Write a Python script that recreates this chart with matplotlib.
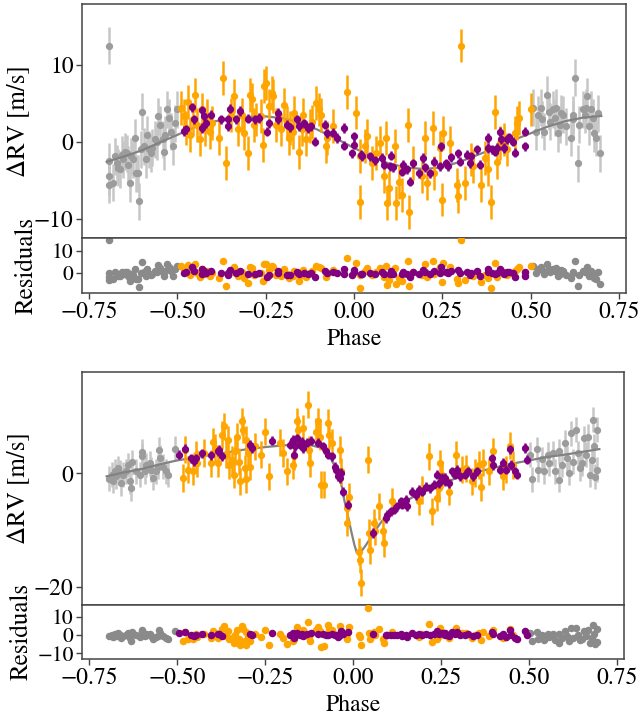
import numpy as np
import matplotlib
matplotlib.use("Agg")
import matplotlib.pyplot as plt

plt.rcParams['font.family'] = ['STIXGeneral', 'Liberation Serif', 'DejaVu Serif']
plt.rcParams['mathtext.fontset'] = 'stix'
plt.rcParams['font.size'] = 16

# ---------- upper system: data ----------
top_gray_phase = [-0.694, -0.694, -0.694, -0.694, -0.683, -0.677, -0.672, -0.667, -0.662, -0.658,
                  -0.653, -0.648, -0.644, -0.639, -0.634, -0.630, -0.625, -0.620, -0.616, -0.611,
                  -0.609, -0.603, -0.600, -0.594, -0.590, -0.585, -0.581, -0.576, -0.571, -0.564,
                  -0.559, -0.554, -0.550, -0.542, -0.539, -0.536, -0.529, -0.524, -0.519, -0.512,
                  -0.508, -0.501,
                  0.507, 0.514, 0.521, 0.528, 0.533, 0.539, 0.546, 0.552, 0.555, 0.563,
                  0.568, 0.572, 0.577, 0.582, 0.586, 0.593, 0.600, 0.615, 0.619, 0.621,
                  0.627, 0.633, 0.638, 0.647, 0.654, 0.657, 0.661, 0.666, 0.671, 0.676,
                  0.680, 0.685, 0.690, 0.696]
top_gray_rv = [12.5, -2.55, -4.5, -5.6, -5.3, -1.9, -2.8, -3.4, -3.6, -1.7,
               -2.3, -1.3, -1.5, -3.0, -5.4, -1.9, -2.3, 0.5, -4.1, -4.1,
               -7.7, -1.0, 3.9, -0.6, -2.3, 0.9, -1.0, -1.5, -0.8, 0.3,
               0.0, 3.3, 2.2, 0.3, -1.3, 0.9, 4.2, 3.1, 1.3, -0.6,
               2.4, 4.2,
               4.4, 1.3, 3.5, 4.4, 2.9, 1.3, 6.1, 3.9, 2.6, 4.2,
               3.1, 4.4, 1.1, 2.2, 3.7, 3.5, 2.0, 0.5, 3.5, 2.9,
               8.3, -2.8, 2.2, 4.2, 3.5, 4.4, 5.9, 2.0, 4.2, 3.1,
               1.1, 0.5, 3.7, -1.5]

top_orange_phase = [-0.489, -0.481, -0.475, -0.470, -0.465, -0.456, -0.449, -0.444, -0.437, -0.430,
                    -0.423, -0.415, -0.409, -0.402, -0.381, -0.371, -0.362, -0.348, -0.339, -0.329,
                    -0.318, -0.310, -0.301, -0.293, -0.290, -0.284, -0.277, -0.263, -0.259, -0.254,
                    -0.249, -0.240, -0.233, -0.228, -0.221, -0.207, -0.198, -0.190, -0.184, -0.180,
                    -0.174, -0.170, -0.156, -0.146, -0.143, -0.137, -0.125, -0.120, -0.108, -0.099,
                    -0.094, -0.080, -0.077, -0.059, -0.021, 0.006, 0.016, 0.018, 0.032, 0.037,
                    0.051, 0.061, 0.073, 0.084, 0.092, 0.094, 0.098, 0.117, 0.119, 0.126,
                    0.136, 0.154, 0.157, 0.168, 0.192, 0.201, 0.206, 0.225, 0.227, 0.244,
                    0.250, 0.253, 0.272, 0.291, 0.295, 0.303, 0.314, 0.331, 0.338, 0.359,
                    0.370, 0.380, 0.387, 0.399, 0.406, 0.413, 0.425, 0.432, 0.455, 0.462,
                    0.466, 0.500]
top_orange_rv = [4.4, 3.3, 1.8, 5.2, 0.9, 2.9, 6.1, 2.2, 0.3, 4.2,
                 1.6, 3.3, 1.3, 2.4, 0.5, 8.3, -2.8, 3.5, 5.9, 1.6,
                 3.5, 1.1, -1.5, 6.1, 5.5, 2.2, 2.9, 3.3, -0.4, 7.2,
                 7.6, 4.6, 6.3, 5.9, 2.2, 1.6, 4.8, 2.4, 0.5, 1.8,
                 1.3, 3.7, -1.3, 1.6, 3.5, 0.3, 2.0, 2.6, 5.0, 4.2,
                 3.5, -0.6, 0.5, 2.0, 6.5, 3.8, -7.8, -1.9, -0.6, 0.7,
                 -2.8, -1.5, -0.2, -4.5, 0.5, -8.0, -6.0, -0.6, -8.0, -5.2,
                 -6.9, 2.2, -9.1, -2.8, -4.5, 0.5, -5.4, 1.8, -4.1, -0.8,
                 -7.5, 1.1, -0.2, -5.6, -7.1, 12.5, -5.4, -2.3, -3.2, -5.6,
                 -2.1, -3.6, -7.8, 3.9, -2.6, -0.2, 0.3, -1.0, 1.1, 2.4,
                 3.1, 4.2]

top_purple_phase = [-0.482, -0.477, -0.459, -0.454, -0.430, -0.430, -0.426, -0.418, -0.406, -0.376,
                    -0.357, -0.356, -0.351, -0.334, -0.322, -0.300, -0.279, -0.268, -0.247, -0.242,
                    -0.215, -0.215, -0.190, -0.180, -0.162, -0.155, -0.141, -0.130, -0.123, -0.110,
                    -0.082, -0.077, -0.060, -0.049, -0.029, -0.027, -0.005, -0.001, 0.000, 0.020,
                    0.023, 0.046, 0.060, 0.079, 0.084, 0.103, 0.106, 0.110, 0.136, 0.140,
                    0.150, 0.159, 0.167, 0.185, 0.195, 0.200, 0.214, 0.227, 0.244, 0.246,
                    0.261, 0.265, 0.275, 0.293, 0.300, 0.319, 0.328, 0.330, 0.347, 0.356,
                    0.378, 0.378, 0.390, 0.399, 0.406, 0.413, 0.415, 0.425, 0.432, 0.440,
                    0.450, 0.457, 0.483, 0.485]
top_purple_rv = [1.4, 1.6, 4.5, 2.9, 4.1, 1.8, 3.3, 2.4, 3.5, 2.9,
                 2.9, 2.0, 4.3, 2.9, 4.0, 3.0, 2.9, 3.1, 1.3, 2.4,
                 3.8, 2.9, 2.2, 1.9, 2.9, 2.0, 2.4, 1.8, 2.0, 0.0,
                 2.2, 1.1, 1.2, 0.5, 1.8, -0.5, -1.5, 0.7, -0.4, -1.7,
                 -1.9, -1.9, -2.4, -2.1, -3.0, -3.2, -1.8, -3.3, -3.9, -3.0,
                 -3.6, -5.2, -2.8, -4.1, -2.1, -3.3, -4.1, -2.6, -3.2, -0.6,
                 -2.8, -3.2, -2.0, -1.5, -2.6, -1.7, -2.8, -1.9, -1.0, -3.0,
                 0.5, -0.8, -1.0, -1.3, -0.8, 1.3, 0.3, -0.8, 0.3, 0.6,
                 0.0, -1.4, 1.3, -0.6]

top_model_phase = [-0.70, -0.65, -0.60, -0.55, -0.50, -0.45, -0.40, -0.35, -0.30, -0.25,
                   -0.20, -0.15, -0.10, -0.05, 0.00, 0.05, 0.10, 0.15, 0.20, 0.25,
                   0.30, 0.35, 0.40, 0.45, 0.50, 0.55, 0.60, 0.65, 0.70]
top_model_rv = [-2.6, -1.9, -1.1, -0.1, 0.9, 1.9, 2.6, 3.05, 3.25, 3.3,
                3.05, 2.5, 1.5, 0.4, -0.8, -1.9, -2.85, -3.35, -3.55, -3.3,
                -2.6, -1.7, -0.8, 0.2, 1.1, 2.0, 2.7, 3.15, 3.35]

# ---------- lower system ----------
bot_gray_phase = [-0.692, -0.686, -0.681, -0.677, -0.672, -0.667, -0.662, -0.658, -0.653, -0.646,
                  -0.639, -0.635, -0.630, -0.627, -0.616, -0.606, -0.599, -0.599, -0.592, -0.587,
                  -0.578, -0.573, -0.568, -0.559, -0.554, -0.550, -0.548, -0.540, -0.531, -0.526,
                  -0.505,
                  0.502, 0.509, 0.523, 0.525, 0.538, 0.544, 0.554, 0.558, 0.568, 0.575,
                  0.585, 0.586, 0.594, 0.601, 0.607, 0.613, 0.619, 0.626, 0.633, 0.638,
                  0.645, 0.650, 0.657, 0.663, 0.669, 0.673, 0.678, 0.682, 0.685, 0.688,
                  0.692, 0.694]
bot_gray_rv = [-0.9, -0.2, -1.3, 0.35, -0.5, 0.9, 0.1, -1.7, -0.2, 0.35,
               1.5, -1.4, -2.6, 2.0, 0.35, -0.2, 3.8, 3.0, 0.35, 1.5,
               1.8, 0.65, -0.8, 0.35, 1.2, 4.2, 2.8, 1.2, 0.35, -0.2,
               4.4,
               3.3, -1.0, 4.3, 0.65, 2.5, 0.35, 3.3, 1.8, 3.6, 0.35,
               3.9, -1.1, 1.5, 5.4, 2.7, 0.1, 7.1, 2.1, 7.7, 3.6,
               0.9, 1.8, 6.2, 3.3, 6.5, -0.2, 2.4, 9.5, 4.8, -0.6,
               0.65, 7.7]

bot_orange_phase = [-0.484, -0.477, -0.470, -0.454, -0.446, -0.442, -0.423, -0.404, -0.398, -0.393,
                    -0.385, -0.373, -0.367, -0.362, -0.354, -0.351, -0.345, -0.339, -0.334, -0.329,
                    -0.324, -0.320, -0.315, -0.312, -0.308, -0.305, -0.304, -0.298, -0.292, -0.279,
                    -0.261, -0.249, -0.240, -0.207, -0.198, -0.188, -0.171, -0.168, -0.160, -0.155,
                    -0.141, -0.127, -0.125, -0.123, -0.104, -0.099, -0.094, -0.090, -0.083, -0.071,
                    -0.068, -0.061, -0.038, -0.033, -0.017, -0.017, -0.010, 0.016, 0.020, 0.023,
                    0.042, 0.046, 0.048, 0.061, 0.063, 0.075, 0.084, 0.089, 0.112, 0.187,
                    0.195, 0.217, 0.225, 0.239, 0.244, 0.248, 0.253, 0.272, 0.293, 0.309,
                    0.322, 0.338, 0.347, 0.359, 0.363, 0.368, 0.385, 0.397, 0.425, 0.434,
                    0.446, 0.455]
bot_orange_rv = [-0.8, 4.2, 0.65, 0.35, 3.3, 1.8, 3.6, 1.8, 5.6, 4.5,
                 1.8, 6.8, 8.3, 3.3, 5.9, 1.5, 2.4, -0.2, 3.9, 6.5,
                 2.1, -1.4, 9.2, 7.7, 0.9, -1.0, 5.9, 3.6, 1.2, 4.8,
                 3.3, 7.4, -0.5, 5.4, 3.6, 0.35, 1.5, 3.0, 9.2, 7.7,
                 8.0, 12.1, 4.2, 1.8, 7.4, 9.2, 6.5, -2.0, -2.0, 8.9,
                 6.8, 5.4, 4.2, 0.35, -6.1, -8.7, -4.1, -13.8, -15.2, -19.3,
                 2.4, -10.5, -13.5, -8.7, -10.2, -5.8, -10.2, -12.3, -4.9, -4.9,
                 -2.9, 3.0, -6.7, -4.3, -2.6, 1.8, -0.2, -3.2, 3.3, 0.65,
                 0.9, -1.4, 0.1, 1.5, -2.4, 1.9, 0.35, 3.9, -0.5, 0.65,
                 4.9, 1.5]

bot_purple_phase = [-0.493, -0.477, -0.461, -0.451, -0.446, -0.430, -0.404, -0.385, -0.381, -0.371,
                    -0.292, -0.287, -0.230, -0.179, -0.170, -0.168, -0.165, -0.158, -0.151, -0.146,
                    -0.141, -0.132, -0.118, -0.099, -0.085, -0.077, -0.071, -0.061, -0.052, -0.047,
                    -0.043, -0.038, -0.033, -0.027, -0.015, 0.056, 0.093, 0.098, 0.108, 0.117,
                    0.126, 0.136, 0.140, 0.150, 0.154, 0.168, 0.178, 0.187, 0.196, 0.206,
                    0.220, 0.230, 0.239, 0.244, 0.253, 0.262, 0.262, 0.272, 0.281, 0.291,
                    0.295, 0.305, 0.319, 0.328, 0.342, 0.351, 0.394, 0.399, 0.417, 0.427,
                    0.436, 0.446, 0.450, 0.460, 0.466, 0.488, 0.494]
bot_purple_rv = [3.3, 4.4, 2.7, 2.2, 2.7, 3.6, 3.2, 3.9, 4.2, 3.0,
                 5.1, 4.5, 5.8, 5.1, 5.9, 3.3, 4.8, 6.2, 5.1, 5.6,
                 4.5, 5.4, 5.8, 5.4, 4.8, 3.9, 3.3, 3.0, 1.2, 0.65,
                 -0.5, -0.8, 0.1, -3.2, -5.5, -10.5, -7.9, -7.3, -6.7, -6.4,
                 -5.8, -4.9, -5.5, -4.6, -5.8, -3.2, -3.8, -2.9, -3.2, -2.3,
                 -2.6, -2.0, -0.2, -1.7, -0.8, -1.4, -0.8, -1.7, 0.35, -0.2,
                 0.65, -0.5, -0.2, 0.35, -0.5, 0.35, 2.7, 1.5, 0.65, 1.9,
                 0.65, 4.3, 1.5, 0.35, -0.2, 4.5, 2.4]

bot_model_phase = [-0.70, -0.65, -0.60, -0.55, -0.50, -0.45, -0.40, -0.35, -0.30, -0.25,
                   -0.20, -0.15, -0.12, -0.09, -0.07, -0.057, -0.043, -0.033, -0.024, -0.015,
                   -0.005, 0.004, 0.011, 0.023, 0.037, 0.056, 0.075, 0.089, 0.108, 0.14,
                   0.19, 0.25, 0.30, 0.35, 0.40, 0.45, 0.50, 0.55, 0.60, 0.65, 0.70]
bot_model_rv = [-0.5, 0.2, 0.8, 1.6, 2.3, 2.8, 3.3, 3.8, 4.3, 4.65,
                4.95, 5.1, 5.0, 4.5, 3.5, 1.9, 0.4, -2.0, -4.9, -7.3,
                -10.2, -12.6, -14.0, -13.8, -12.6, -10.8, -9.0, -7.9, -6.7, -5.2,
                -3.5, -2.0, -0.6, 0.2, 1.0, 1.7, 2.3, 2.9, 3.3, 3.8, 4.3]

# typical error bar half-lengths per instrument
top_err = {'gray': 2.4, 'orange': 2.2, 'purple': 0.6}
bot_err = {'gray': 2.2, 'orange': 2.4, 'purple': 0.8}

GRAY_M, GRAY_E = '#9c9c9c', '#c6c6c6'
ORANGE = '#FFA500'
PURPLE = '#800080'
MODEL = '#828282'
SPINE = '#444444'

fig = plt.figure(figsize=(6.41, 7.19), dpi=100)
W, H = 641, 719


def add_ax(l, t, r, b):
    return fig.add_axes([l / W, 1 - b / H, (r - l) / W, (b - t) / H])


def style(ax, size):
    for s in ax.spines.values():
        s.set_color(SPINE)
        s.set_linewidth(1.1)
    ax.tick_params(labelsize=17, length=4, width=1, direction='out', color=SPINE, pad=2)
    ax.tick_params(axis='y', labelsize=size)


def panel(ax, rax, gray, orange, purple, model, err, ylim, rylim, yticks, ryticks, rpad):
    mph, mrv = np.array(model[0]), np.array(model[1])
    sets = [(gray, GRAY_M, GRAY_E, err['gray'], 1),
            (orange, ORANGE, ORANGE, err['orange'], 3),
            (purple, PURPLE, PURPLE, err['purple'], 4)]
    ax.plot(mph, mrv, color=MODEL, lw=1.6, zorder=2)
    for (ph, rv), mc, ec, e, z in sets:
        ph, rv = np.array(ph), np.array(rv)
        ax.errorbar(ph, rv, yerr=e, fmt='o', ms=4.2, color=mc, ecolor=ec,
                    elinewidth=1.8, capsize=0, zorder=z)
        res = rv - np.interp(ph, mph, mrv)
        rax.plot(ph, res, 'o', ms=4.4, color=(mc if mc != GRAY_M else '#8a8a8a'),
                 zorder=z)
    ax.set_ylim(*ylim)
    rax.set_ylim(*rylim)
    ax.set_yticks(yticks)
    rax.set_yticks(ryticks)
    ax.set_xlim(-0.77, 0.77)
    rax.set_xlim(-0.77, 0.77)
    rax.set_xticks([-0.75, -0.5, -0.25, 0.0, 0.25, 0.5, 0.75])
    ax.set_xticks([])
    ax.set_ylabel('ΔRV [m/s]', fontsize=18, labelpad=3)
    rax.set_ylabel('Residuals', fontsize=18, labelpad=rpad)
    rax.set_xlabel('Phase', fontsize=17, labelpad=4)
    style(ax, 17)
    style(rax, 15.5)


ax1 = add_ax(82, 4, 626, 238)
rax1 = add_ax(82, 238, 626, 293)
panel(ax1, rax1,
      (top_gray_phase, top_gray_rv), (top_orange_phase, top_orange_rv),
      (top_purple_phase, top_purple_rv), (top_model_phase, top_model_rv),
      top_err, (-12.5, 17.9), (-9.1, 15.9), [-10, 0, 10], [0, 10], 10)

ax2 = add_ax(82, 372, 624, 605)
rax2 = add_ax(82, 605, 624, 659)
panel(ax2, rax2,
      (bot_gray_phase, bot_gray_rv), (bot_orange_phase, bot_orange_rv),
      (bot_purple_phase, bot_purple_rv), (bot_model_phase, bot_model_rv),
      bot_err, (-23.2, 17.9), (-13.1, 16.4), [-20, 0], [-10, 0, 10], 3)

fig.savefig('out.png', dpi=100)
